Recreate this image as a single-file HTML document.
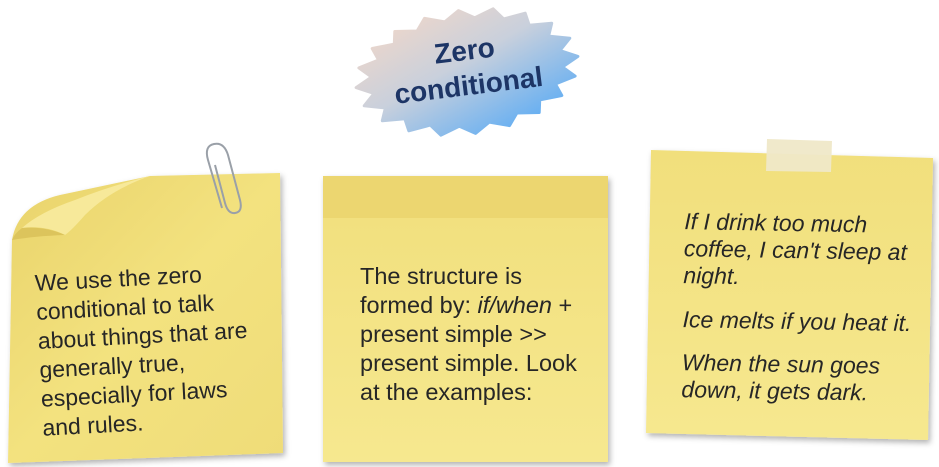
<!DOCTYPE html>
<html><head><meta charset="utf-8"><style>
html,body{margin:0;padding:0;background:#fff;width:939px;height:467px;overflow:hidden}
text{font-family:"Liberation Sans",sans-serif;fill:#262626}
</style></head><body>
<svg id="s" width="939" height="467" viewBox="0 0 939 467" xmlns="http://www.w3.org/2000/svg">
<defs>
<linearGradient id="burst" x1="0" y1="0" x2="1" y2="1">
<stop offset="0" stop-color="#fbd9c4"/><stop offset="0.45" stop-color="#c9d0dc"/><stop offset="1" stop-color="#3ea2fb"/></linearGradient>
<linearGradient id="y1" x1="0" y1="0" x2="1" y2="1">
<stop offset="0" stop-color="#e9d36a"/><stop offset="0.5" stop-color="#f3e27f"/><stop offset="1" stop-color="#efdc78"/></linearGradient>
<linearGradient id="y2" x1="0" y1="0" x2="0" y2="1">
<stop offset="0" stop-color="#f1df7c"/><stop offset="1" stop-color="#f6e88f"/></linearGradient>
<filter id="sh" x="-10%" y="-10%" width="130%" height="130%"><feDropShadow dx="2" dy="3" stdDeviation="3" flood-color="#000" flood-opacity="0.3"/></filter>
</defs>
<polygon id="star" fill="url(#burst)" stroke="url(#burst)" stroke-width="3" stroke-linejoin="round"/>
<g transform="rotate(-7 467 72)">
<text x="467" y="60" text-anchor="middle" font-size="28" font-weight="bold" style="fill:#1d3566">Zero</text>
<text x="467" y="95" text-anchor="middle" font-size="28" font-weight="bold" style="fill:#1d3566">conditional</text>
</g>

<!-- note 1 -->
<path d="M12 240 Q18 205 60 195 L150 176 L280 173 L283 453 L8 463 Z" fill="url(#y1)" filter="url(#sh)"/>
<path d="M22 228 Q40 212 75 200 Q110 186 150 176 Q110 190 85 215 Q72 230 65 235 Q45 225 22 228 Z" fill="#f7e99a"/>
<path d="M65 235 Q45 226 22 228 Q14 234 12 240 Q35 236 65 235Z" fill="#dcc45c"/>
<g fill="none" stroke="#9aa0a8" stroke-width="2">
<path d="M222 208 L208 160 Q204 146 214 144 Q224 142 228 155 L240 200 Q243 212 235 213 Q228 214 225 203 L215 165"/>
</g>
<g transform="rotate(-3 150 340)" font-size="23">
<text x="38" y="285">We use the zero</text>
<text x="38" y="314">conditional to talk</text>
<text x="38" y="343">about things that are</text>
<text x="38" y="372">generally true,</text>
<text x="38" y="401">especially for laws</text>
<text x="38" y="430">and rules.</text>
</g>

<!-- note 2 -->
<rect x="323" y="176" width="285" height="286" fill="url(#y2)" filter="url(#sh)"/>
<rect x="323" y="176" width="285" height="42" fill="#ecd670"/>
<g font-size="23.5">
<text x="360" y="284">The structure is</text>
<text x="360" y="313">formed by: <tspan font-style="italic">if/when</tspan> +</text>
<text x="360" y="342">present simple &gt;&gt;</text>
<text x="360" y="371">present simple. Look</text>
<text x="360" y="400">at the examples:</text>
</g>

<!-- note 3 -->
<polygon points="651,150 933,158 928,440 646,433" fill="url(#y2)" filter="url(#sh)"/>
<polygon points="767,139 832,141 831,172 766,171" fill="#efe8c8" opacity="0.95"/>
<g transform="rotate(1 790 300)" font-size="23" font-style="italic">
<text x="683" y="231">If I drink too much</text>
<text x="683" y="258">coffee, I can't sleep at</text>
<text x="683" y="285">night.</text>
<text x="683" y="329">Ice melts if you heat it.</text>
<text x="683" y="372">When the sun goes</text>
<text x="683" y="399">down, it gets dark.</text>
</g>
</svg>
<script>
var p=[],cx=467,cy=72,n=20,a0=-8*Math.PI/180;
for(var i=0;i<n*2;i++){var t=i*Math.PI/n,r=i%2?0.86:1,x=112*r*Math.cos(t),y=62*r*Math.sin(t);
p.push((cx+x*Math.cos(a0)-y*Math.sin(a0)).toFixed(1)+','+(cy+x*Math.sin(a0)+y*Math.cos(a0)).toFixed(1));}
document.getElementById('star').setAttribute('points',p.join(' '));
</script>
</body></html>
